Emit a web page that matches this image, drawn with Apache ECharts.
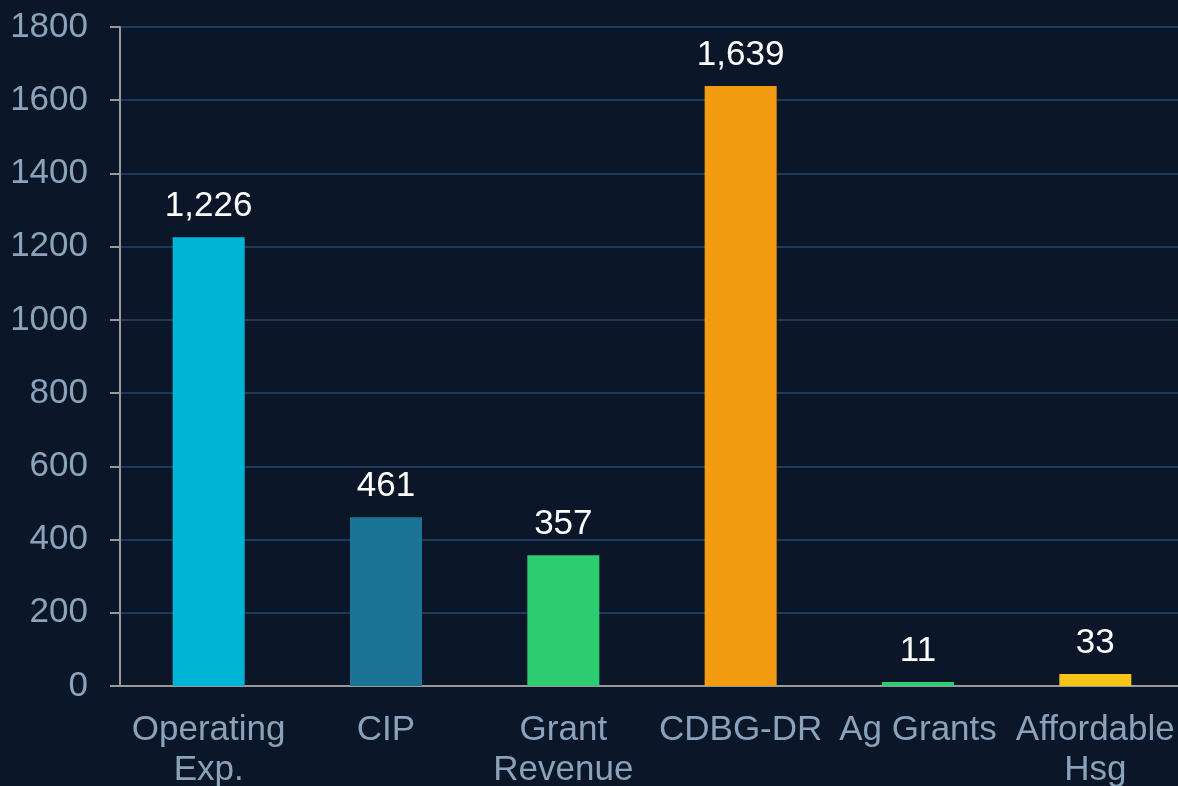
<!DOCTYPE html>
<html><head><meta charset="utf-8">
<script src="https://cdn.jsdelivr.net/npm/echarts@6/dist/echarts.min.js"></script>
<style>html,body{margin:0;padding:0;background:#0b1628;}#c{width:1178px;height:786px;}</style>
</head><body><div id="c"></div>
<script>
const categories = ['Operating\nExp.', 'CIP', 'Grant\nRevenue', 'CDBG-DR', 'Ag Grants', 'Affordable\nHsg'];
const values = [1226, 461, 357, 1639, 11, 33];
const barColors = ['#00b4d8', '#1b7396', '#2ecc71', '#f39c12', '#2ecc71', '#f5c518'];
const yTicks = { min: 0, max: 1800, interval: 200 };

const chart = echarts.init(document.getElementById('c'));
chart.setOption({
  backgroundColor: '#0b1628',
  animation: false,
  grid: { left: 120, width: 1064, top: 27, height: 659, containLabel: false, outerBoundsMode: 'none' },
  xAxis: {
    type: 'category',
    data: categories,
    axisLine: { lineStyle: { color: '#999999', width: 2 } },
    axisTick: { length: 9, lineStyle: { color: '#999999', width: 2 } },
    axisLabel: { color: '#8aa3bb', fontSize: 35, lineHeight: 40, margin: 24, fontFamily: 'Liberation Sans, Arial, sans-serif', interval: 0 }
  },
  yAxis: {
    type: 'value',
    min: yTicks.min, max: yTicks.max, interval: yTicks.interval,
    axisLine: { show: true, lineStyle: { color: '#999999', width: 2 } },
    axisTick: { show: true, length: 10, lineStyle: { color: '#999999', width: 2 } },
    axisLabel: { color: '#8aa3bb', fontSize: 35, margin: 32, fontFamily: 'Liberation Sans, Arial, sans-serif', formatter: v => String(v) },
    splitLine: { lineStyle: { color: '#1d3a5c', width: 2 } }
  },
  series: [{
    type: 'bar',
    data: values.map((v, i) => ({ value: v, itemStyle: { color: barColors[i] } })),
    barWidth: 72,
    label: {
      show: true, position: 'top', distance: 13,
      color: '#ffffff', fontSize: 35, fontFamily: 'Liberation Sans, Arial, sans-serif',
      formatter: p => p.value.toLocaleString('en-US')
    }
  }]
});
</script></body></html>
